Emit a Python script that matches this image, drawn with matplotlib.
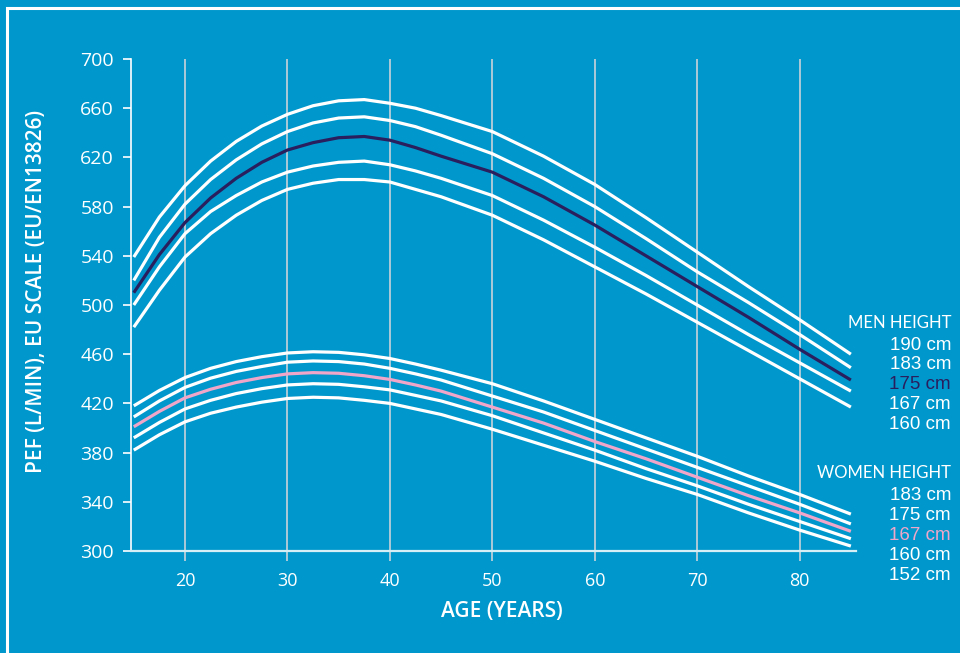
import matplotlib.pyplot as plt
from matplotlib.patches import Rectangle

ages = [15, 17.5, 20, 22.5, 25, 27.5, 30, 32.5, 35, 37.5, 40, 42.5, 45,
        50, 55, 60, 65, 70, 75, 80, 85]

men_heights = ['190 cm', '183 cm', '175 cm', '167 cm', '160 cm']
men_pef = [
    [539, 571.5, 597, 617, 633, 645.5, 655, 662, 666, 667, 664, 660, 654,
     641, 621, 598, 571, 543, 515, 488, 460],
    [520, 555, 582, 602, 618, 631, 641, 648, 652, 653, 650, 645, 638,
     623, 603, 580, 554, 527, 502, 476, 449],
    [510, 541, 567, 587, 603, 616, 626, 632, 636, 637, 634, 628, 621,
     608, 588, 565, 540, 515, 490, 464, 439],
    [500, 531, 558, 576, 589, 600, 608, 613, 616, 617, 614, 609, 603,
     589, 569, 547, 524, 500, 476, 453, 430],
    [482, 512, 539, 558, 573, 585, 594, 599, 602, 602, 600, 594, 588,
     573, 553, 531, 509, 486, 463, 440, 417],
]

women_heights = ['183 cm', '175 cm', '167 cm', '160 cm', '152 cm']
women_pef = [
    [418, 430.5, 441, 448.5, 454, 458, 461, 462, 461.5, 459.5, 456.5, 452, 447,
     436, 422, 407, 392, 377, 361, 346, 330],
    [409, 422, 433, 440.5, 446, 450, 453.5, 454.5, 454, 452, 448.5, 444, 439,
     426, 413, 398, 383, 368, 353, 338, 322],
    [401, 413.5, 424.5, 431.5, 437, 441, 444, 445, 444.5, 442.5, 439.5, 435, 430,
     417, 404, 389, 375, 360, 345, 331, 316],
    [392, 404.5, 415.5, 422.5, 428, 432, 435, 436, 435.5, 433.5, 431, 426.5, 422,
     410, 396, 382, 367, 353, 338, 324, 310],
    [382, 394.5, 405, 412, 417, 421, 424, 425, 424.5, 422.5, 420, 415.5, 411,
     399, 386, 373, 359, 346, 331, 317, 304],
]

x_ticks = [20, 30, 40, 50, 60, 70, 80]
y_ticks = [300, 340, 380, 420, 460, 500, 540, 580, 620, 660, 700]

BG = '#0098cc'
WHITE = 'white'
NAVY = '#2a1f5e'
PINK = '#f0a6c8'
GRID = '#c9d3da'


def main():
    fig = plt.figure(figsize=(9.6, 6.53), dpi=100, facecolor=BG)
    ax = fig.add_axes([130.7 / 960, 1 - 551 / 653, (856 - 130.7) / 960, 492 / 653])
    ax.set_facecolor(BG)

    for i, row in enumerate(men_pef):
        plotter(ax, ages, row, NAVY if i == 2 else WHITE)
    for i, row in enumerate(women_pef):
        plotter(ax, ages, row, PINK if i == 2 else WHITE)

    ax.set_xlim(14.7, 85.5)
    ax.set_ylim(300, 700)
    ax.set_xticks(x_ticks)
    ax.set_yticks(y_ticks)
    ax.grid(True, axis='x', color=GRID, lw=1.2)
    ax.set_axisbelow(True)

    for s in ['top', 'right']:
        ax.spines[s].set_visible(False)
    ax.spines['left'].set_color(WHITE)
    ax.spines['left'].set_linewidth(1.2)
    ax.spines['bottom'].set_color('#d6eef6')
    ax.spines['bottom'].set_linewidth(1.6)

    ax.tick_params(axis='y', colors=WHITE, length=6, width=1.2, pad=6, labelsize=14)
    ax.tick_params(axis='x', colors=GRID, labelcolor=WHITE, length=7, width=1.2, pad=8, labelsize=13)
    for lab in ax.get_xticklabels() + ax.get_yticklabels():
        lab.set_family('Open Sans')

    fig.text(37 / 960, 1 - 291 / 653, 'PEF (L/MIN), EU SCALE (EU/EN13826)', rotation=90,
             ha='center', va='center', color=WHITE, fontsize=15, family='Open Sans', weight='semibold')
    fig.text(502 / 960, 1 - 611 / 653, 'AGE (YEARS)', ha='center', va='center',
             color=WHITE, fontsize=15, family='Open Sans', weight='semibold')

    # legend text on the right
    x_r = 951 / 960
    fig.text(x_r, 1 - 323 / 653, 'MEN HEIGHT', ha='right', va='center', color=WHITE,
             fontsize=12, family='Lato')
    for i, h in enumerate(men_heights):
        fig.text(x_r, 1 - (345 + i * 19.8) / 653, h, ha='right', va='center',
                 color=NAVY if i == 2 else WHITE, fontsize=13.5, family='Liberation Sans')
    fig.text(x_r, 1 - 473 / 653, 'WOMEN HEIGHT', ha='right', va='center', color=WHITE,
             fontsize=12, family='Lato')
    for i, h in enumerate(women_heights):
        fig.text(x_r, 1 - (495 + i * 20.2) / 653, h, ha='right', va='center',
                 color=PINK if i == 2 else WHITE, fontsize=13.5, family='Liberation Sans')

    # white frame, only top and left edges fall inside the picture
    fig.add_artist(Rectangle((7 / 960, -0.1), 1.2, 1.1 - 8 / 653, transform=fig.transFigure,
                             fill=False, edgecolor=WHITE, lw=2.2))

    fig.savefig('out.png', dpi=100, facecolor=BG)


def plotter(ax, x, y, color):
    ax.plot(x, y, color=color, lw=2.3, solid_capstyle='butt', solid_joinstyle='round')


if __name__ == '__main__':
    main()
